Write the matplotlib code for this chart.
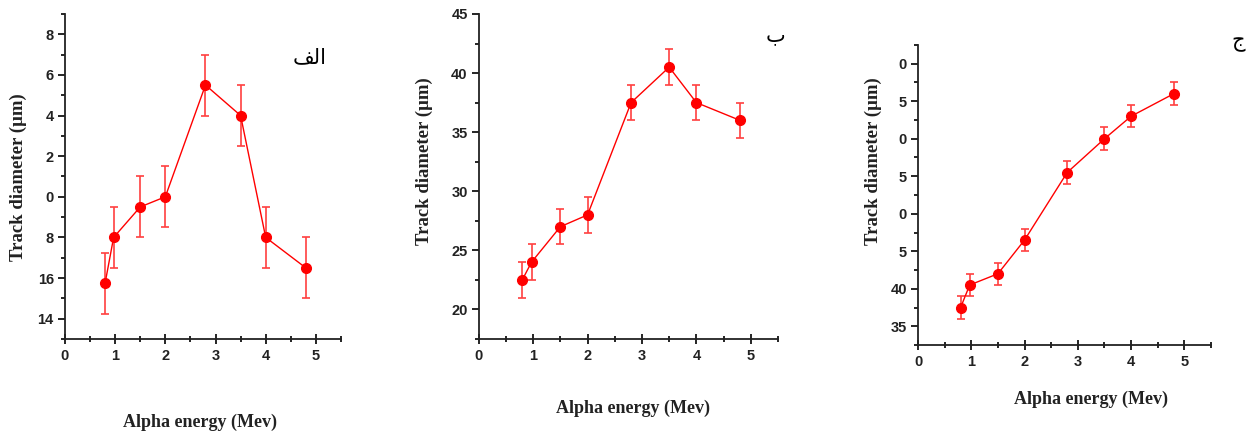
import matplotlib
matplotlib.use("Agg")
import matplotlib.pyplot as plt
from matplotlib.ticker import MultipleLocator, FixedLocator, FixedFormatter

energy = [0.8, 0.97, 1.5, 2.0, 2.8, 3.5, 4.0, 4.8]

diam_a = [15.75, 18.0, 19.5, 20.0, 25.5, 24.0, 18.0, 16.5]
err_a = [1.5, 1.5, 1.5, 1.5, 1.5, 1.5, 1.5, 1.5]
yticks_a = [14, 16, 18, 20, 22, 24, 26, 28]
ylabels_a = ["14", "16", "8", "0", "2", "4", "6", "8"]

diam_b = [22.5, 24.0, 27.0, 28.0, 37.5, 40.5, 37.5, 36.0]
err_b = [1.5, 1.5, 1.5, 1.5, 1.5, 1.5, 1.5, 1.5]
yticks_b = [20, 25, 30, 35, 40, 45]
ylabels_b = ["20", "25", "30", "35", "40", "45"]

diam_c = [37.5, 40.5, 42.0, 46.5, 55.5, 60.0, 63.0, 66.0]
err_c = [1.5, 1.5, 1.5, 1.5, 1.5, 1.5, 1.5, 1.5]
yticks_c = [35, 40, 45, 50, 55, 60, 65, 70]
ylabels_c = ["35", "40", "5", "0", "5", "0", "5", "0"]

xticks = [0, 1, 2, 3, 4, 5]
xlabels = ["0", "1", "2", "3", "4", "5"]

panel_tags = ["\ufed2\ufedf\ufe8d", "\ufe8f", "\ufe9d"]

fig = plt.figure(figsize=(12.49, 4.36), dpi=100)

tickfont = ["Liberation Sans Narrow", "Liberation Sans", "DejaVu Sans"]
labelfont = ["Liberation Serif", "DejaVu Serif"]

specs = [
    ([0.052, 0.2225, 0.221, 0.7455], diam_a, err_a, yticks_a, ylabels_a, (13, 29), 1),
    ([0.3833, 0.2225, 0.2396, 0.7455], diam_b, err_b, yticks_b, ylabels_b, (17.5, 45), 2.5),
    ([0.735, 0.2087, 0.2346, 0.6881], diam_c, err_c, yticks_c, ylabels_c, (32.5, 72.5), 2.5),
]

for rect, d, e, yt, yl, ylim, minor in specs:
    ax = fig.add_axes(rect)
    ax.errorbar(energy, d, yerr=e, fmt='-o', color='#ff0000', ecolor='#ff4040',
                elinewidth=1.2, capsize=3, capthick=1.2, markersize=7, linewidth=1)
    ax.set_xlim(0, 5.5)
    ax.set_ylim(*ylim)
    ax.spines['top'].set_visible(False)
    ax.spines['right'].set_visible(False)
    for s in ['left', 'bottom']:
        ax.spines[s].set_linewidth(1.3)
        ax.spines[s].set_color('#222222')
    ax.xaxis.set_major_locator(FixedLocator(xticks))
    ax.xaxis.set_major_formatter(FixedFormatter(xlabels))
    ax.xaxis.set_minor_locator(MultipleLocator(0.5))
    ax.yaxis.set_major_locator(FixedLocator(yt))
    ax.yaxis.set_major_formatter(FixedFormatter(yl))
    ax.yaxis.set_minor_locator(MultipleLocator(minor))
    ax.tick_params(axis='x', which='major', direction='inout', length=7, width=1.2, pad=4)
    ax.tick_params(axis='x', which='minor', direction='inout', length=5, width=1.2)
    ax.tick_params(axis='y', which='major', direction='out', length=5, width=1.2, pad=3)
    ax.tick_params(axis='y', which='minor', direction='out', length=3, width=1.2)
    for lab in ax.get_xticklabels() + ax.get_yticklabels():
        lab.set_fontfamily(tickfont)
        lab.set_fontweight('bold')
        lab.set_fontsize(10.5)
        lab.set_color('#222222')

ylab_pos = [(0.0144, 0.594), (0.340, 0.631), (0.699, 0.631)]
xlab_pos = [(0.160, 0.032), (0.507, 0.064), (0.8735, 0.085)]
for (x, y) in ylab_pos:
    fig.text(x, y, "Track diameter (\u00b5m)", rotation=90, ha='center', va='center',
             fontfamily=labelfont, fontweight='bold', fontsize=13.5, color='#222222')
for (x, y) in xlab_pos:
    fig.text(x, y, "Alpha energy (Mev)", ha='center', va='center',
             fontfamily=labelfont, fontweight='bold', fontsize=13, color='#222222')

tag_pos = [(0.248, 0.869), (0.621, 0.92), (0.991, 0.904)]
for (x, y), t in zip(tag_pos, panel_tags):
    fig.text(x, y, t, ha='center', va='center', fontfamily=['DejaVu Sans'], fontsize=15, color='black')

fig.savefig("out.png", dpi=100)
